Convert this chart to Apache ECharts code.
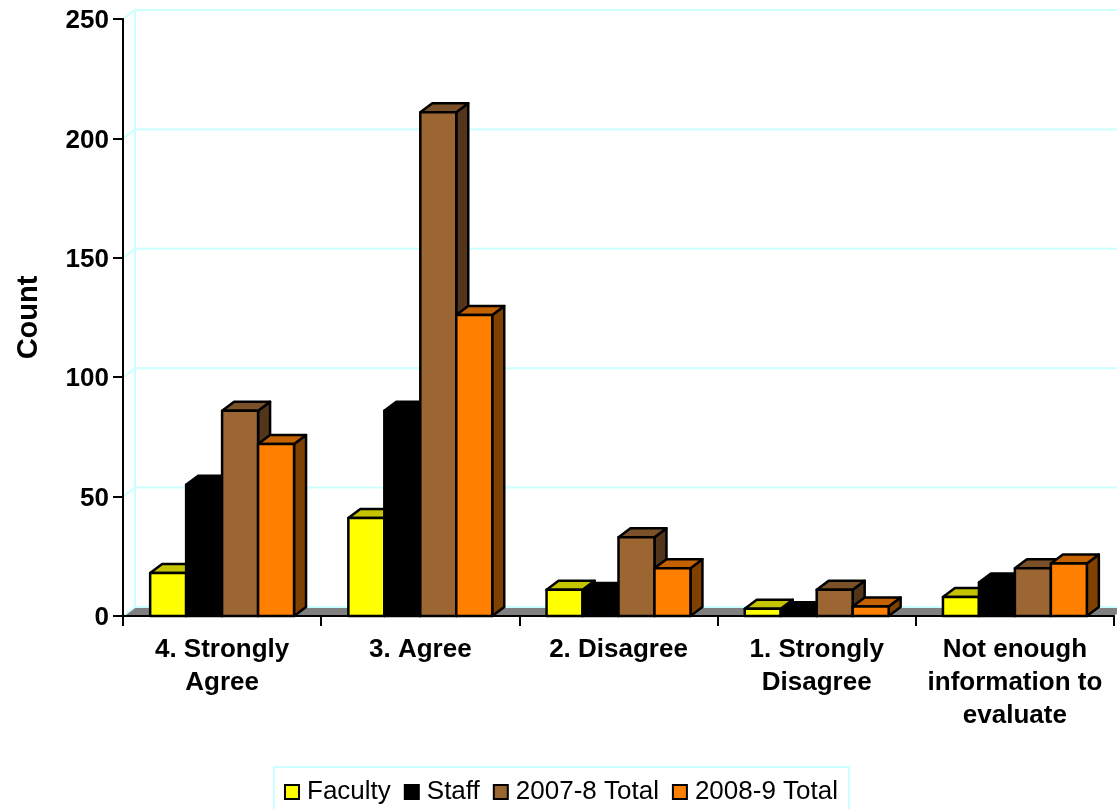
<!DOCTYPE html>
<html>
<head>
<meta charset="utf-8">
<style>html,body{margin:0;padding:0;background:#fff;overflow:hidden}#chart{width:1117px;height:809px}</style>
<script src="https://cdn.jsdelivr.net/npm/echarts@6/dist/echarts.min.js"></script>
</head>
<body>
<div id="chart"></div>
<script>
const categories = ['4. Strongly\nAgree', '3. Agree', '2. Disagree', '1. Strongly\nDisagree', 'Not enough\ninformation to\nevaluate'];
const faculty = [18, 41, 11, 3, 8];
const staff = [55, 86, 10, 2, 14];
const total2007 = [86, 211, 33, 11, 20];
const total2008 = [72, 126, 20, 4, 22];
const yTicks = [0, 50, 100, 150, 200, 250];

// Oblique offset of the 3D box depth, in pixels
const DEPTH_X = 12, DEPTH_Y = 9;
const BAR_SHARE = 0.1815;
const FONT = '"Liberation Sans", Arial, sans-serif';
const EDGE = { stroke: '#000', lineWidth: 2.5, lineJoin: 'round' };

// Back wall gridlines with their diagonal returns, plus the grey floor
function renderWall(params, api) {
  const v = api.value(1);
  const cs = params.coordSys;
  const y = api.coord([0, v])[1];
  const x0 = cs.x, x1 = cs.x + cs.width;
  const children = [];
  if (v === 0) {
    children.push({
      type: 'polygon',
      shape: { points: [[x0, y], [x1, y], [x1 + DEPTH_X, y - DEPTH_Y], [x0 + DEPTH_X, y - DEPTH_Y]] },
      style: { fill: '#808080' }
    });
    children.push({
      type: 'line',
      shape: { x1: x0 + DEPTH_X, y1: y - DEPTH_Y, x2: x0 + DEPTH_X, y2: cs.y - DEPTH_Y },
      style: { stroke: '#ccffff', lineWidth: 2 }
    });
  }
  children.push({
    type: 'polyline',
    shape: { points: [[x0, y], [x0 + DEPTH_X, y - DEPTH_Y], [x1 + DEPTH_X, y - DEPTH_Y]] },
    style: { stroke: '#ccffff', lineWidth: 2, fill: null }
  });
  return { type: 'group', children };
}

// One oblique box per value: side, top, then front face
function boxRenderer(slot, front, top, side) {
  return function (params, api) {
    const cat = api.value(0);
    const [cx, yTop] = api.coord([cat, api.value(1)]);
    const yBase = api.coord([cat, 0])[1];
    const w = api.size([1, 0])[0] * BAR_SHARE;
    const xl = cx + (slot - 2) * w, xr = xl + w;
    return {
      type: 'group',
      children: [
        { type: 'polygon', shape: { points: [[xr, yBase], [xr + DEPTH_X, yBase - DEPTH_Y], [xr + DEPTH_X, yTop - DEPTH_Y], [xr, yTop]] }, style: { fill: side, ...EDGE } },
        { type: 'polygon', shape: { points: [[xl, yTop], [xl + DEPTH_X, yTop - DEPTH_Y], [xr + DEPTH_X, yTop - DEPTH_Y], [xr, yTop]] }, style: { fill: top, ...EDGE } },
        { type: 'rect', shape: { x: xl, y: yTop, width: w, height: yBase - yTop }, style: { fill: front, ...EDGE } }
      ]
    };
  };
}

function boxSeries(name, values, slot, front, top, side) {
  return {
    name,
    type: 'custom',
    coordinateSystem: 'cartesian2d',
    clip: false,
    z: 3,
    itemStyle: { color: front },
    renderItem: boxRenderer(slot, front, top, side),
    data: values.map((v, i) => [i, v])
  };
}

const chart = echarts.init(document.getElementById('chart'), null, { renderer: 'canvas' });
chart.setOption({
  animation: false,
  backgroundColor: '#fff',
  textStyle: { fontFamily: FONT },
  grid: { left: 123, right: 3, top: 19, bottom: 193 },
  xAxis: {
    type: 'category',
    data: categories,
    z: 5,
    axisLine: { lineStyle: { color: '#000', width: 2 } },
    axisTick: { show: true, alignWithLabel: false, length: 10, lineStyle: { color: '#000', width: 2 } },
    axisLabel: { color: '#000', fontFamily: FONT, fontWeight: 'bold', fontSize: 26, lineHeight: 33, margin: 17, interval: 0 }
  },
  yAxis: {
    type: 'value',
    min: 0,
    max: 250,
    interval: 50,
    name: 'Count',
    nameLocation: 'middle',
    nameGap: 80,
    nameRotate: 90,
    nameTextStyle: { color: '#000', fontFamily: FONT, fontWeight: 'bold', fontSize: 29 },
    z: 5,
    axisLine: { show: true, lineStyle: { color: '#000', width: 2 } },
    axisTick: { show: true, length: 10, lineStyle: { color: '#000', width: 2 } },
    axisLabel: {
      margin: 14,
      formatter: '{tick|{value}}',
      rich: { tick: { color: '#000', fontFamily: FONT, fontWeight: 'bold', fontSize: 26, padding: [4, 0, 0, 0] } }
    },
    splitLine: { show: false }
  },
  legend: {
    data: ['Faculty', 'Staff', '2007-8 Total', '2008-9 Total'],
    left: 274,
    top: 767,
    orient: 'horizontal',
    padding: [12, 11, 12, 10],
    itemGap: 13,
    itemWidth: 14,
    itemHeight: 14,
    icon: 'rect',
    selectedMode: false,
    borderColor: '#ccffff',
    borderWidth: 2,
    itemStyle: { borderColor: '#000', borderWidth: 2 },
    textStyle: { color: '#000', fontFamily: FONT, fontSize: 26, padding: [0, 0, 0, 3] }
  },
  series: [
    {
      name: 'wall',
      type: 'custom',
      coordinateSystem: 'cartesian2d',
      clip: false,
      z: 1,
      silent: true,
      renderItem: renderWall,
      data: yTicks.map(v => [0, v])
    },
    boxSeries('Faculty', faculty, 0, '#ffff00', '#c4c400', '#8c8c00'),
    boxSeries('Staff', staff, 1, '#000000', '#000000', '#000000'),
    boxSeries('2007-8 Total', total2007, 2, '#9c6633', '#7a5128', '#52351a'),
    boxSeries('2008-9 Total', total2008, 3, '#ff8000', '#c46200', '#804000')
  ]
});
</script>
</body>
</html>
